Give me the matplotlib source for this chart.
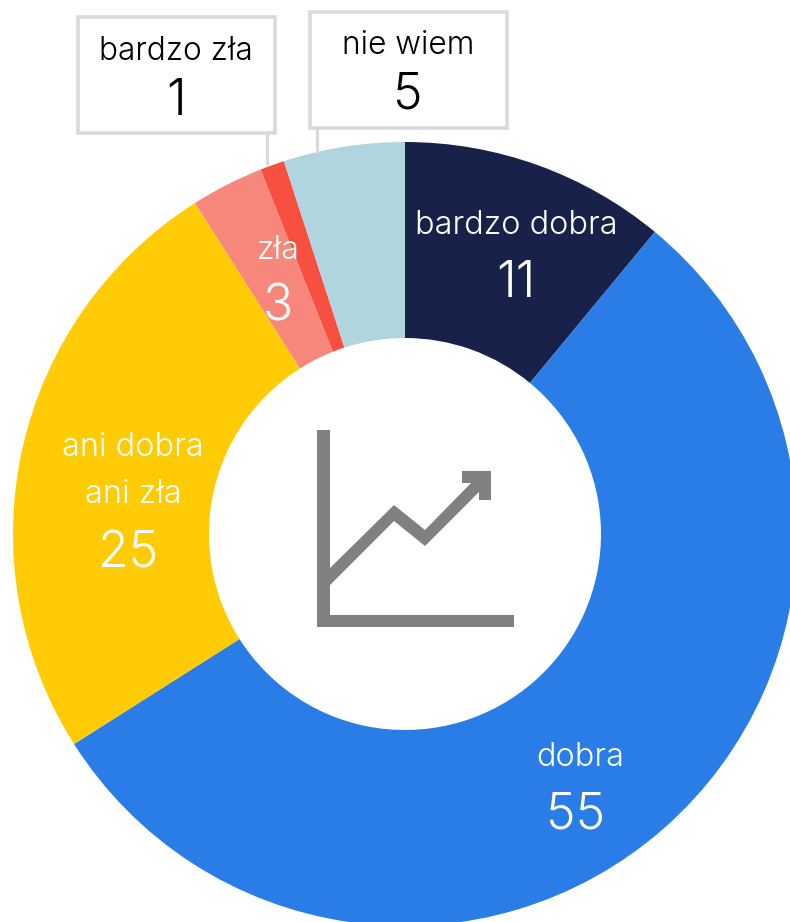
import matplotlib
matplotlib.use("Agg")
import matplotlib.pyplot as plt
from matplotlib.patches import Rectangle, Polygon

W, H = 790, 922
categories = ["bardzo dobra", "dobra", "ani dobra\nani zła", "zła", "bardzo zła", "nie wiem"]
values = [11, 55, 25, 3, 1, 5]
colors = ["#172149", "#2a7de6", "#ffcb05", "#f6877a", "#f85040", "#b1d5df"]

FONT = "Inter"
plt.rcParams["font.family"] = [FONT, "DejaVu Sans"]

fig = plt.figure(figsize=(W / 100, H / 100), dpi=100)
ax = fig.add_axes([0, 0, 1, 1])
ax.set_xlim(0, W)
ax.set_ylim(0, H)
ax.axis("off")

def Y(y):
    return H - y

cx, cy, R = 405, 534, 392
ax.pie(values, colors=colors, startangle=90, counterclock=False,
       center=(cx, Y(cy)), radius=R, frame=True,
       wedgeprops=dict(width=R - 196, linewidth=0))
ax.set_xlim(0, W)
ax.set_ylim(0, H)
ax.set_aspect("equal")
ax.axis("off")

# callout leaders and boxes
GREY = "#d9d9d9"
ax.plot([267, 267], [Y(134), Y(165)], color=GREY, lw=2.2, zorder=1, solid_capstyle="butt")
ax.plot([317, 317], [Y(128), Y(153)], color=GREY, lw=2.2, zorder=1, solid_capstyle="butt")
for x0, y0, x1, y1 in [(78, 17, 275, 133), (310, 12, 507, 128)]:
    ax.add_patch(Rectangle((x0, Y(y1)), x1 - x0, y1 - y0, fc="white", ec=GREY, lw=2.6, zorder=3))

NS = 36
W_ = "300"
def label(x, y_lab, xn, y_num, name, val, color, ls=1.0, fs=23.4):
    ax.text(x, Y(y_lab), name, ha="center", va="center", fontsize=fs, color=color,
            fontweight=W_, linespacing=ls, zorder=4)
    ax.text(xn, Y(y_num), str(val), ha="center", va="center", fontsize=NS, color=color,
            fontweight=W_, zorder=4)

label(516, 225, 516, 283, categories[0], values[0], "white")
label(580, 757, 576, 815, categories[1], values[1], "white")
label(133, 471, 128, 554, categories[2], values[2], "white", ls=1.7)
label(278, 250, 278, 307, categories[3], values[3], "white")
label(176, 51, 176, 101, categories[4], values[4], "black", fs=22.8)
label(408, 45, 408, 95, categories[5], values[5], "black", fs=22.8)

# centre icon
ICON = "#808080"
icon = dict(fc=ICON, ec="none", zorder=4)
ax.add_patch(Rectangle((317, Y(627)), 197, 12.5, **icon))
ax.add_patch(Rectangle((317, Y(627)), 12.5, 197, **icon))
pts = [(329, 569), (394, 505), (425, 530), (471, 483), (479, 483), (479, 492),
       (425, 546), (394, 521), (329, 586)]
ax.add_patch(Polygon([(x, Y(y)) for x, y in pts], closed=True, **icon))
arrow = [(462, 471.5), (491, 471.5), (491, 500), (479, 500), (479, 483), (462, 483)]
ax.add_patch(Polygon([(x, Y(y)) for x, y in arrow], closed=True, **icon))

fig.savefig("out.png", dpi=100, facecolor="white")
